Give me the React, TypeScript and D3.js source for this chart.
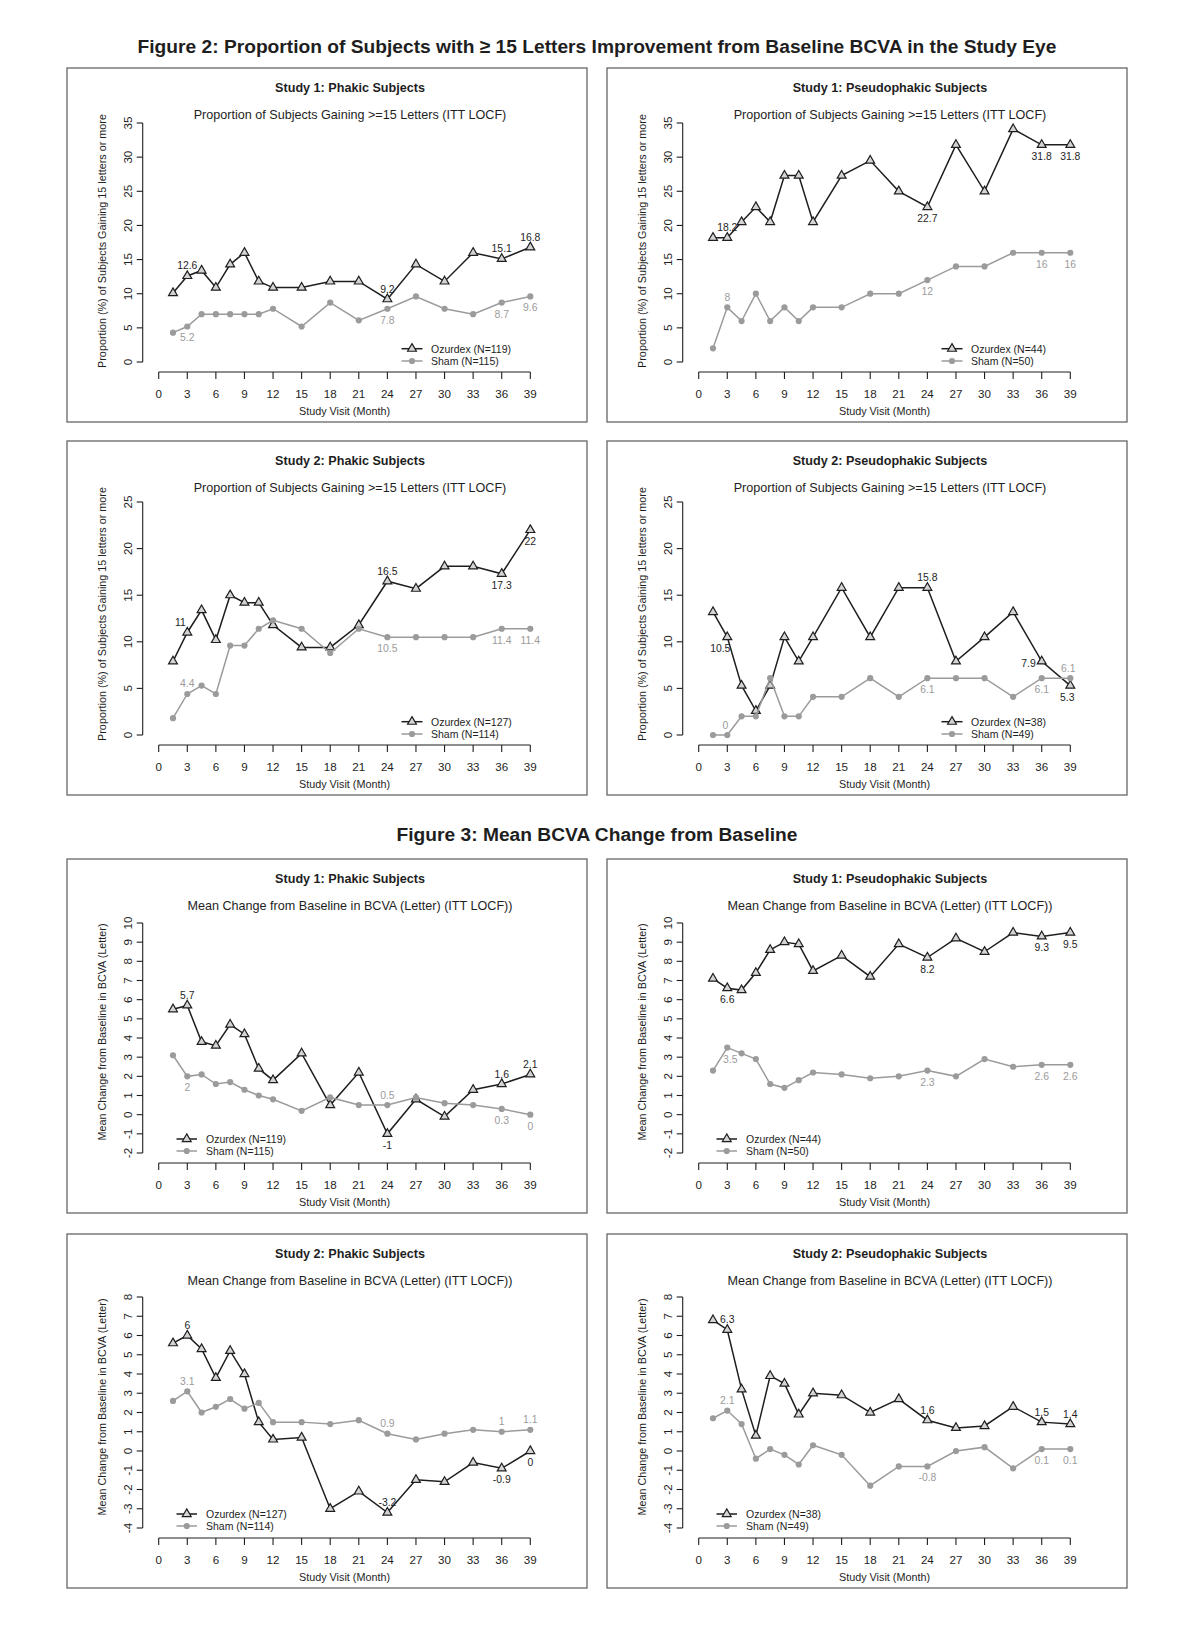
import * as d3 from 'd3';

// visit months shared by every panel
const months = [1.5, 3, 4.5, 6, 7.5, 9, 10.5, 12, 15, 18, 21, 24, 27, 30, 33, 36, 39];
const monthTicks = [0, 3, 6, 9, 12, 15, 18, 21, 24, 27, 30, 33, 36, 39];

const propTicks35 = [0, 5, 10, 15, 20, 25, 30, 35];
const propTicks25 = [0, 5, 10, 15, 20, 25];
const changeTicks10 = [-2, -1, 0, 1, 2, 3, 4, 5, 6, 7, 8, 9, 10];
const changeTicks8 = [-4, -3, -2, -1, 0, 1, 2, 3, 4, 5, 6, 7, 8];

// Figure 2: proportion gaining >= 15 letters
const s1PhakicPropOzurdex = [10.1, 12.6, 13.4, 10.9, 14.3, 16.0, 11.8, 10.9, 10.9, 11.8, 11.8, 9.2, 14.3, 11.8, 16.0, 15.1, 16.8];
const s1PhakicPropSham = [4.3, 5.2, 7.0, 7.0, 7.0, 7.0, 7.0, 7.8, 5.2, 8.7, 6.1, 7.8, 9.6, 7.8, 7.0, 8.7, 9.6];
const s1PseudoPropOzurdex = [18.2, 18.2, 20.5, 22.7, 20.5, 27.3, 27.3, 20.5, 27.3, 29.5, 25.0, 22.7, 31.8, 25.0, 34.1, 31.8, 31.8];
const s1PseudoPropSham = [2, 8, 6, 10, 6, 8, 6, 8, 8, 10, 10, 12, 14, 14, 16, 16, 16];
const s2PhakicPropOzurdex = [7.9, 11, 13.4, 10.2, 15.0, 14.2, 14.2, 11.8, 9.4, 9.4, 11.8, 16.5, 15.7, 18.1, 18.1, 17.3, 22];
const s2PhakicPropSham = [1.8, 4.4, 5.3, 4.4, 9.6, 9.6, 11.4, 12.3, 11.4, 8.8, 11.4, 10.5, 10.5, 10.5, 10.5, 11.4, 11.4];
const s2PseudoPropOzurdex = [13.2, 10.5, 5.3, 2.6, 5.3, 10.5, 7.9, 10.5, 15.8, 10.5, 15.8, 15.8, 7.9, 10.5, 13.2, 7.9, 5.3];
const s2PseudoPropSham = [0, 0, 2.0, 2.0, 6.1, 2.0, 2.0, 4.1, 4.1, 6.1, 4.1, 6.1, 6.1, 6.1, 4.1, 6.1, 6.1];

// Figure 3: mean BCVA change from baseline
const s1PhakicChgOzurdex = [5.5, 5.7, 3.8, 3.6, 4.7, 4.2, 2.4, 1.8, 3.2, 0.5, 2.2, -1, 0.8, -0.1, 1.3, 1.6, 2.1];
const s1PhakicChgSham = [3.1, 2, 2.1, 1.6, 1.7, 1.3, 1.0, 0.8, 0.2, 0.9, 0.5, 0.5, 0.9, 0.6, 0.5, 0.3, 0];
const s1PseudoChgOzurdex = [7.1, 6.6, 6.5, 7.4, 8.6, 9.0, 8.9, 7.5, 8.3, 7.2, 8.9, 8.2, 9.2, 8.5, 9.5, 9.3, 9.5];
const s1PseudoChgSham = [2.3, 3.5, 3.2, 2.9, 1.6, 1.4, 1.8, 2.2, 2.1, 1.9, 2.0, 2.3, 2.0, 2.9, 2.5, 2.6, 2.6];
const s2PhakicChgOzurdex = [5.6, 6, 5.3, 3.8, 5.2, 4.0, 1.5, 0.6, 0.7, -3.0, -2.1, -3.2, -1.5, -1.6, -0.6, -0.9, 0];
const s2PhakicChgSham = [2.6, 3.1, 2.0, 2.3, 2.7, 2.2, 2.5, 1.5, 1.5, 1.4, 1.6, 0.9, 0.6, 0.9, 1.1, 1, 1.1];
const s2PseudoChgOzurdex = [6.8, 6.3, 3.2, 0.8, 3.9, 3.5, 1.9, 3.0, 2.9, 2.0, 2.7, 1.6, 1.2, 1.3, 2.3, 1.5, 1.4];
const s2PseudoChgSham = [1.7, 2.1, 1.4, -0.4, 0.1, -0.2, -0.7, 0.3, -0.2, -1.8, -0.8, -0.8, 0.0, 0.2, -0.9, 0.1, 0.1];

const FONT = "'Liberation Sans', Arial, Helvetica, sans-serif";
const DARK = '#1e1e1e';
const GREY = '#9b9b9b';

type Label = { i: number; pos: 'above' | 'below' | 'left'; dx?: number };

interface PanelSpec {
    left: number;
    top: number;
    title: string;
    subtitle: string;
    yTitle: string;
    yTicks: number[];
    yTopOff: number;
    oz: number[];
    sham: number[];
    ozName: string;
    shamName: string;
    ozLabels: Label[];
    shamLabels: Label[];
    legend: 'right' | 'left';
}

const PROP_SUB = 'Proportion of Subjects Gaining >=15 Letters (ITT LOCF)';
const PROP_Y = 'Proportion (%) of Subjects Gaining 15 letters or more';
const CHG_SUB = 'Mean Change from Baseline in BCVA (Letter) (ITT LOCF))';
const CHG_Y = 'Mean Change from Baseline in BCVA (Letter)';

const L = (i: number, pos: Label['pos'], dx = 0): Label => ({ i, pos, dx });

const panels: PanelSpec[] = [
    {
        left: 67, top: 68, title: 'Study 1: Phakic Subjects', subtitle: PROP_SUB, yTitle: PROP_Y,
        yTicks: propTicks35, yTopOff: 55, oz: s1PhakicPropOzurdex, sham: s1PhakicPropSham,
        ozName: 'Ozurdex (N=119)', shamName: 'Sham (N=115)',
        ozLabels: [L(1, 'above'), L(11, 'above'), L(15, 'above'), L(16, 'above')],
        shamLabels: [L(1, 'below'), L(11, 'below'), L(15, 'below'), L(16, 'below')],
        legend: 'right',
    },
    {
        left: 607, top: 68, title: 'Study 1: Pseudophakic Subjects', subtitle: PROP_SUB, yTitle: PROP_Y,
        yTicks: propTicks35, yTopOff: 55, oz: s1PseudoPropOzurdex, sham: s1PseudoPropSham,
        ozName: 'Ozurdex (N=44)', shamName: 'Sham (N=50)',
        ozLabels: [L(1, 'above'), L(11, 'below'), L(15, 'below'), L(16, 'below')],
        shamLabels: [L(1, 'above'), L(11, 'below'), L(15, 'below'), L(16, 'below')],
        legend: 'right',
    },
    {
        left: 67, top: 441, title: 'Study 2: Phakic Subjects', subtitle: PROP_SUB, yTitle: PROP_Y,
        yTicks: propTicks25, yTopOff: 61, oz: s2PhakicPropOzurdex, sham: s2PhakicPropSham,
        ozName: 'Ozurdex (N=127)', shamName: 'Sham (N=114)',
        ozLabels: [L(1, 'above', -7), L(11, 'above'), L(15, 'below'), L(16, 'below')],
        shamLabels: [L(1, 'above'), L(11, 'below'), L(15, 'below'), L(16, 'below')],
        legend: 'right',
    },
    {
        left: 607, top: 441, title: 'Study 2: Pseudophakic Subjects', subtitle: PROP_SUB, yTitle: PROP_Y,
        yTicks: propTicks25, yTopOff: 61, oz: s2PseudoPropOzurdex, sham: s2PseudoPropSham,
        ozName: 'Ozurdex (N=38)', shamName: 'Sham (N=49)',
        ozLabels: [L(1, 'below', -7), L(11, 'above'), L(15, 'left'), L(16, 'below', -3)],
        shamLabels: [L(1, 'above', -2), L(11, 'below'), L(15, 'below'), L(16, 'above', -2)],
        legend: 'right',
    },
    {
        left: 67, top: 859, title: 'Study 1: Phakic Subjects', subtitle: CHG_SUB, yTitle: CHG_Y,
        yTicks: changeTicks10, yTopOff: 64, oz: s1PhakicChgOzurdex, sham: s1PhakicChgSham,
        ozName: 'Ozurdex (N=119)', shamName: 'Sham (N=115)',
        ozLabels: [L(1, 'above'), L(11, 'below'), L(15, 'above'), L(16, 'above')],
        shamLabels: [L(1, 'below'), L(11, 'above'), L(15, 'below'), L(16, 'below')],
        legend: 'left',
    },
    {
        left: 607, top: 859, title: 'Study 1: Pseudophakic Subjects', subtitle: CHG_SUB, yTitle: CHG_Y,
        yTicks: changeTicks10, yTopOff: 64, oz: s1PseudoChgOzurdex, sham: s1PseudoChgSham,
        ozName: 'Ozurdex (N=44)', shamName: 'Sham (N=50)',
        ozLabels: [L(1, 'below'), L(11, 'below'), L(15, 'below'), L(16, 'below')],
        shamLabels: [L(1, 'below', 3), L(11, 'below'), L(15, 'below'), L(16, 'below')],
        legend: 'left',
    },
    {
        left: 67, top: 1234, title: 'Study 2: Phakic Subjects', subtitle: CHG_SUB, yTitle: CHG_Y,
        yTicks: changeTicks8, yTopOff: 63, oz: s2PhakicChgOzurdex, sham: s2PhakicChgSham,
        ozName: 'Ozurdex (N=127)', shamName: 'Sham (N=114)',
        ozLabels: [L(1, 'above'), L(11, 'above'), L(15, 'below'), L(16, 'below')],
        shamLabels: [L(1, 'above'), L(11, 'above'), L(15, 'above'), L(16, 'above')],
        legend: 'left',
    },
    {
        left: 607, top: 1234, title: 'Study 2: Pseudophakic Subjects', subtitle: CHG_SUB, yTitle: CHG_Y,
        yTicks: changeTicks8, yTopOff: 63, oz: s2PseudoChgOzurdex, sham: s2PseudoChgSham,
        ozName: 'Ozurdex (N=38)', shamName: 'Sham (N=49)',
        ozLabels: [L(1, 'above'), L(11, 'above'), L(15, 'above'), L(16, 'above')],
        shamLabels: [L(1, 'above'), L(11, 'below'), L(15, 'below'), L(16, 'below')],
        legend: 'left',
    },
];

const triPath = d3.symbol().type(d3.symbolTriangle).size(34)() || '';

const Panel = ({ p }: { p: PanelSpec }) => {
    const W = 520;
    const H = 354;
    const yBottom = 294;
    const x = d3.scaleLinear().domain([0, 39]).range([91.7, 463.3]);
    const y = d3.scaleLinear()
        .domain([d3.min(p.yTicks) as number, d3.max(p.yTicks) as number])
        .range([yBottom, p.yTopOff]);
    const line = d3.line<number>().x((_, i) => x(months[i])).y(d => y(d));
    const axisX = 75.7;
    const axisY = 304;

    const labelEl = (lab: Label, vals: number[], color: string, key: string) => {
        const px = x(months[lab.i]) + (lab.dx || 0);
        const py = y(vals[lab.i]);
        let tx = px, ty = py, anchor: 'middle' | 'end' = 'middle';
        if (lab.pos === 'above') ty = py - 6.5;
        else if (lab.pos === 'below') ty = py + 15;
        else { tx = px - 6; ty = py + 6; anchor = 'end'; }
        return (
            <text key={key} x={tx} y={ty} textAnchor={anchor} fontSize={10.4} fill={color}>
                {String(vals[lab.i])}
            </text>
        );
    };

    const lg = p.legend === 'right'
        ? { x0: 334.5, x1: 355.5, tx: 364, r0: 280.7, r1: 293 }
        : { x0: 109.5, x1: 130, tx: 139, r0: 280, r1: 292 };
    const lmid = (lg.x0 + lg.x1) / 2;

    return (
        <g transform={`translate(${p.left},${p.top})`} fontFamily={FONT}>
            <rect x={0} y={0} width={W} height={H} fill="white" stroke="#666" strokeWidth={1.3} />
            <text x={283} y={24} textAnchor="middle" fontSize={12.6} fontWeight="bold" fill={DARK}>{p.title}</text>
            <text x={283} y={50.8} textAnchor="middle" fontSize={12.6} fill={DARK}>{p.subtitle}</text>

            {/* y axis */}
            <line x1={axisX} x2={axisX} y1={y(y.domain()[0])} y2={y(y.domain()[1])} stroke={DARK} strokeWidth={1.1} />
            {p.yTicks.map(t => (
                <g key={t}>
                    <line x1={axisX - 6} x2={axisX} y1={y(t)} y2={y(t)} stroke={DARK} strokeWidth={1.1} />
                    <text transform={`translate(65,${y(t)}) rotate(-90)`} textAnchor="middle" fontSize={11.6} fill={DARK}>{t}</text>
                </g>
            ))}
            <text transform={`translate(39,173) rotate(-90)`} textAnchor="middle" fontSize={10.8} fill={DARK}>{p.yTitle}</text>

            {/* x axis */}
            <line x1={x(0)} x2={x(39)} y1={axisY} y2={axisY} stroke={DARK} strokeWidth={1.1} />
            {monthTicks.map(t => (
                <g key={t}>
                    <line x1={x(t)} x2={x(t)} y1={axisY} y2={axisY + 7} stroke={DARK} strokeWidth={1.1} />
                    <text x={x(t)} y={330} textAnchor="middle" fontSize={11.6} fill={DARK}>{t}</text>
                </g>
            ))}
            <text x={277.5} y={346.5} textAnchor="middle" fontSize={10.8} fill={DARK}>Study Visit (Month)</text>

            {/* Ozurdex */}
            <path d={line(p.oz) || ''} fill="none" stroke={DARK} strokeWidth={1.5} />
            {p.oz.map((v, i) => (
                <path key={i} d={triPath} transform={`translate(${x(months[i])},${y(v)})`}
                    fill="#d4d4d4" stroke={DARK} strokeWidth={1.2} />
            ))}

            {/* Sham */}
            <path d={line(p.sham) || ''} fill="none" stroke={GREY} strokeWidth={1.5} />
            {p.sham.map((v, i) => (
                <circle key={i} cx={x(months[i])} cy={y(v)} r={3.1} fill={GREY} />
            ))}

            {p.ozLabels.map((lab, k) => labelEl(lab, p.oz, DARK, 'o' + k))}
            {p.shamLabels.map((lab, k) => labelEl(lab, p.sham, GREY, 's' + k))}

            {/* legend */}
            <line x1={lg.x0} x2={lg.x1} y1={lg.r0} y2={lg.r0} stroke={DARK} strokeWidth={1.5} />
            <path d={triPath} transform={`translate(${lmid},${lg.r0})`} fill="#d4d4d4" stroke={DARK} strokeWidth={1.2} />
            <text x={lg.tx} y={lg.r0 + 3.8} fontSize={10.5} fill={DARK}>{p.ozName}</text>
            <line x1={lg.x0} x2={lg.x1} y1={lg.r1} y2={lg.r1} stroke={GREY} strokeWidth={1.5} />
            <circle cx={lmid} cy={lg.r1} r={3.1} fill={GREY} />
            <text x={lg.tx} y={lg.r1 + 3.8} fontSize={10.5} fill={DARK}>{p.shamName}</text>
        </g>
    );
};

export default function App() {
    return (
        <svg width={1200} height={1631} style={{ position: 'absolute', left: 0, top: 0, background: 'white' }}>
            <rect x={0} y={0} width={1200} height={1631} fill="white" />
            <text x={597} y={53} textAnchor="middle" fontFamily={FONT} fontWeight="bold" fontSize={19.2} fill={DARK}>
                Figure 2: Proportion of Subjects with ≥ 15 Letters Improvement from Baseline BCVA in the Study Eye
            </text>
            <text x={597} y={841} textAnchor="middle" fontFamily={FONT} fontWeight="bold" fontSize={19.2} fill={DARK}>
                Figure 3: Mean BCVA Change from Baseline
            </text>
            {panels.map((p, k) => <Panel key={k} p={p} />)}
        </svg>
    );
}
